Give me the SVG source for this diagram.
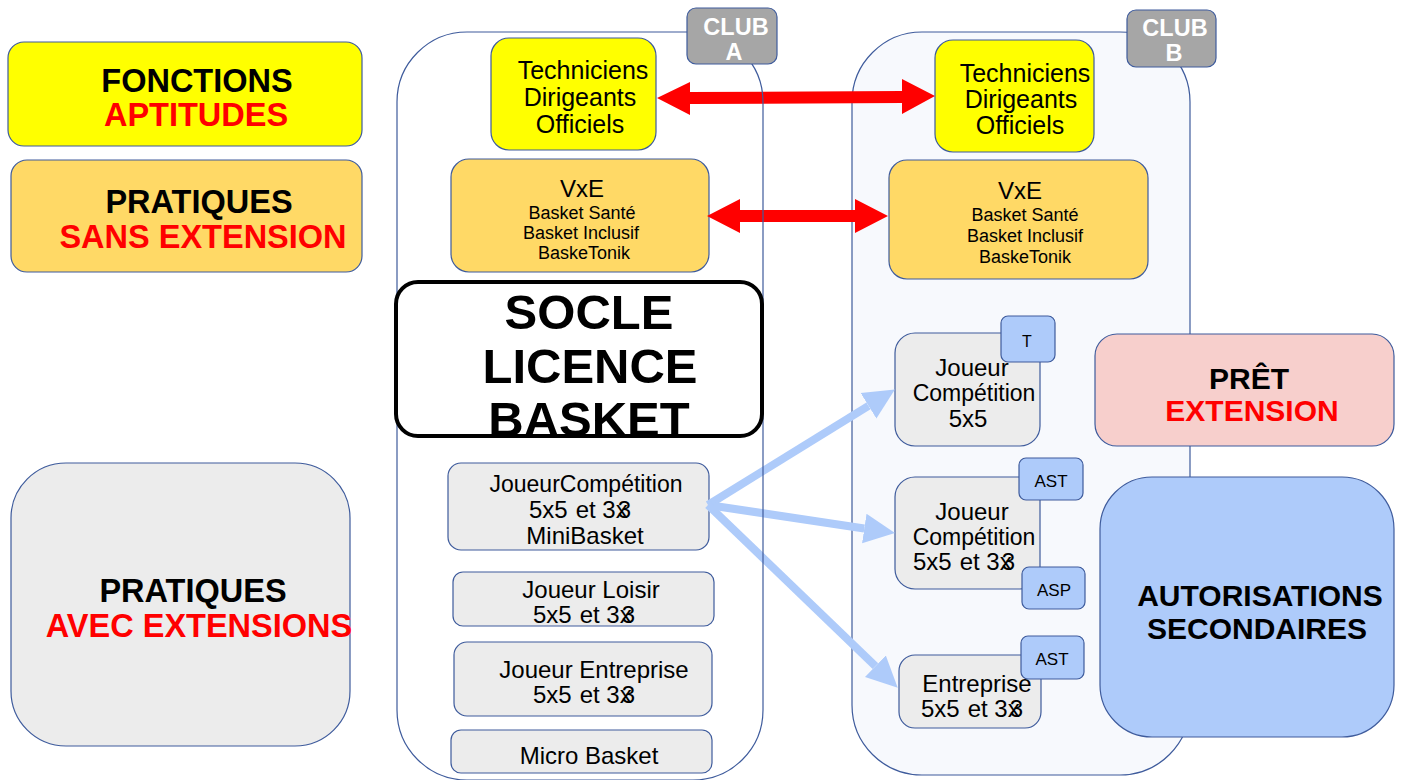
<svg xmlns="http://www.w3.org/2000/svg" width="1403" height="780" viewBox="0 0 1403 780">
<style>
text{font-family:"Liberation Sans",Arial,sans-serif;text-anchor:middle;fill:#000}
.b{font-weight:bold}
.red{fill:#ff0000}
.box{stroke:#3e5b9c;stroke-width:1.2}
.yel{fill:#ffff00}
.org{fill:#ffd966}
.gry{fill:#ececec}
.tag{fill:#aecbfa;stroke:#3e5b9c;stroke-width:1.2}
.club{fill:#a6a6a6;stroke:#3e5b9c;stroke-width:1.2}
.ct{fill:#ffffff;font-weight:bold;font-size:23.5px}
.t25{font-size:25px}
.t24{font-size:24px}
.t23{font-size:23px}
.t18{font-size:18px}
.t16{font-size:16px}
.t17{font-size:17px}
.L{font-size:32.5px;font-weight:bold}
.M{font-size:30px;font-weight:bold}
.S{font-size:49px;font-weight:bold}
.ba{stroke:#aecbfa;stroke-width:8;fill:none}
</style>
<defs>
<marker id="bh" markerUnits="userSpaceOnUse" markerWidth="31" markerHeight="32" viewBox="0 -16 31 32" refX="0" refY="0" orient="auto">
<path d="M0,-15 L31,0 L0,15 Z" fill="#aecbfa"/>
</marker>
</defs>
<rect width="1403" height="780" fill="#ffffff"/>

<g id="legend-fonctions">
<rect class="box yel" x="8" y="42" width="354" height="104" rx="16"/>
<text class="L" x="197" y="92">FONCTIONS</text>
<text class="L red" x="196" y="126">APTITUDES</text>
</g>
<g id="legend-sans">
<rect class="box org" x="11" y="160" width="351" height="112" rx="16"/>
<text class="L" x="199" y="213">PRATIQUES</text>
<text class="L red" x="203" y="248">SANS EXTENSION</text>
</g>
<g id="legend-avec">
<rect class="box gry" x="11" y="463" width="339" height="283" rx="55"/>
<text class="L" x="193" y="602">PRATIQUES</text>
<text class="L red" x="199" y="637">AVEC EXTENSIONS</text>
</g>

<g id="club-b">
<rect x="852" y="32" width="338" height="743" rx="70" fill="#f7f9fd" stroke="#3e5b9c" stroke-width="1.2"/>
<rect class="club" x="1127" y="10" width="89" height="57" rx="9"/>
<text class="ct" x="1175" y="36">CLUB</text>
<text class="ct" x="1174" y="61">B</text>
</g>

<g id="a-tech">
<rect class="box yel" x="491" y="38" width="165" height="112" rx="18"/>
<text class="t25" x="583" y="79">Techniciens</text>
<text class="t25" x="580" y="106">Dirigeants</text>
<text class="t25" x="580" y="133">Officiels</text>
</g>
<g id="a-vxe">
<rect class="box org" x="451" y="159" width="258" height="113" rx="18"/>
<text class="t24" x="582" y="197">VxE</text>
<text class="t18" x="582" y="219">Basket Santé</text>
<text class="t18" x="581" y="239">Basket Inclusif</text>
<text class="t18" x="584" y="259">BaskeTonik</text>
</g>
<g id="a-comp">
<rect class="box gry" x="448" y="463" width="261" height="87" rx="13"/>
<text class="t23" x="586" y="492">JoueurCompétition</text>
<text class="t24" x="580" y="518">5x5<tspan dx="8">et</tspan> 3x<tspan dx="-10">3</tspan></text>
<text class="t24" x="585" y="544">MiniBasket</text>
</g>
<g id="a-loisir">
<rect class="box gry" x="453" y="572" width="261" height="54" rx="10"/>
<text class="t24" x="591" y="598">Joueur Loisir</text>
<text class="t24" x="584" y="623">5x5<tspan dx="8">et</tspan> 3x<tspan dx="-10">3</tspan></text>
</g>
<g id="a-entreprise">
<rect class="box gry" x="454" y="642" width="258" height="74" rx="13"/>
<text class="t24" x="594" y="678">Joueur Entreprise</text>
<text class="t24" x="584" y="703">5x5<tspan dx="8">et</tspan> 3x<tspan dx="-10">3</tspan></text>
</g>
<g id="a-micro">
<rect class="box gry" x="451" y="730" width="261" height="43" rx="10"/>
<text class="t24" x="589" y="764">Micro Basket</text>
</g>

<g id="b-tech">
<rect class="box yel" x="935" y="40" width="159" height="112" rx="18"/>
<text class="t25" x="1025" y="82">Techniciens</text>
<text class="t25" x="1021" y="108">Dirigeants</text>
<text class="t25" x="1020" y="134">Officiels</text>
</g>
<g id="b-vxe">
<rect class="box org" x="889" y="160" width="259" height="119" rx="18"/>
<text class="t24" x="1020" y="199">VxE</text>
<text class="t18" x="1025" y="221">Basket Santé</text>
<text class="t18" x="1025" y="242">Basket Inclusif</text>
<text class="t18" x="1025" y="263">BaskeTonik</text>
</g>
<g id="b-comp5">
<rect class="box gry" x="895" y="333" width="145" height="113" rx="20"/>
<text class="t24" x="972" y="376">Joueur</text>
<text class="t23" x="974" y="401">Compétition</text>
<text class="t24" x="968" y="427">5x5</text>
<rect class="tag" x="1001" y="316" width="54" height="46" rx="7"/>
<text class="t16" x="1027" y="347">T</text>
</g>
<g id="b-comp33">
<rect class="box gry" x="895" y="477" width="145" height="112" rx="20"/>
<text class="t24" x="972" y="520">Joueur</text>
<text class="t23" x="974" y="545">Compétition</text>
<text class="t24" x="964" y="570">5x5<tspan dx="8">et</tspan> 3x<tspan dx="-10">3</tspan></text>
<rect class="tag" x="1019" y="458" width="64" height="42" rx="7"/>
<text class="t17" x="1051" y="487">AST</text>
<rect class="tag" x="1022" y="567" width="63" height="42" rx="7"/>
<text class="t17" x="1054" y="596">ASP</text>
</g>
<g id="b-entreprise">
<rect class="box gry" x="899" y="655" width="142" height="73" rx="16"/>
<text class="t24" x="977" y="692">Entreprise</text>
<text class="t24" x="972" y="717">5x5<tspan dx="8">et</tspan> 3x<tspan dx="-10">3</tspan></text>
<rect class="tag" x="1021" y="636" width="63" height="43" rx="7"/>
<text class="t17" x="1052" y="665">AST</text>
</g>

<g id="pret">
<rect class="box" x="1095" y="334" width="299" height="112" rx="22" fill="#f7cfcc"/>
<text class="M" x="1249" y="389">PRÊT</text>
<text class="M red" x="1252" y="421">EXTENSION</text>
</g>
<g id="autorisations">
<rect class="box" x="1100" y="477" width="294" height="260" rx="52" fill="#aecbfa"/>
<text class="M" x="1260" y="606">AUTORISATIONS</text>
<text class="M" x="1257" y="639">SECONDAIRES</text>
</g>

<g id="connectors">
<polygon fill="#ff0000" points="657,98 690,82 690,92 902,91 902,79 935,96 902,114 902,103 690,104 690,115"/>
<polygon fill="#ff0000" points="707,216 740,199 740,210 855,210 855,199 888,216 855,233 855,222 740,222 740,233"/>
<line class="ba" x1="708" y1="505" x2="868.5" y2="405.8" marker-end="url(#bh)"/>
<line class="ba" x1="708" y1="505" x2="864.3" y2="528.5" marker-end="url(#bh)"/>
<line class="ba" x1="708" y1="505" x2="875.4" y2="666.2" marker-end="url(#bh)"/>
</g>

<g id="club-a">
<rect x="397" y="32" width="366" height="748" rx="70" fill="none" stroke="#3e5b9c" stroke-width="1.2"/>
<rect class="club" x="687" y="8" width="90" height="56" rx="9"/>
<text class="ct" x="736" y="35">CLUB</text>
<text class="ct" x="734" y="60">A</text>
</g>

<g id="socle">
<rect x="396" y="282" width="366" height="154" rx="22" fill="#ffffff" stroke="#000" stroke-width="4"/>
<text class="S" x="589" y="329">SOCLE</text>
<text class="S" x="590" y="383">LICENCE</text>
<text class="S" x="589" y="436">BASKET</text>
</g>
</svg>
